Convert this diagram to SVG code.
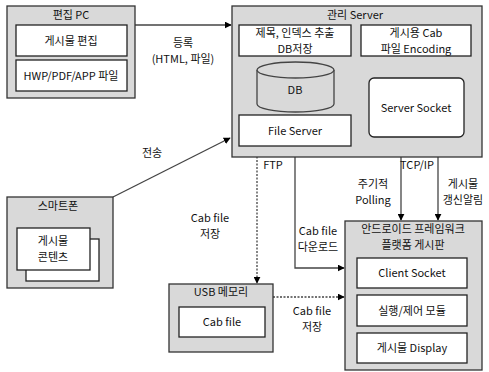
<svg xmlns="http://www.w3.org/2000/svg" width="489" height="372" viewBox="0 0 489 372">
<defs>
<marker id="ah" viewBox="0 0 10 10" refX="9" refY="5" markerWidth="7" markerHeight="7" orient="auto-start-reverse" markerUnits="userSpaceOnUse"><path d="M0,0 L10,5 L0,10 z" fill="#000"/></marker>
<style>
text{font-family:"Noto Sans CJK KR","Noto Sans",sans-serif;font-size:11px;fill:#111;text-anchor:middle}
.outer{fill:#d9d9d9;stroke:#333;stroke-width:1.3}
.inner{fill:#fff;stroke:#222;stroke-width:1.3}
.ln{fill:none;stroke:#444;stroke-width:1.3}
.dot{fill:none;stroke:#444;stroke-width:1.3;stroke-dasharray:2,1.5}
</style>
</defs>
<rect width="489" height="372" fill="#fff"/>
<g id="connectors">
<line class="ln" x1="135" y1="25" x2="231" y2="25" marker-end="url(#ah)"/>
<line class="ln" x1="113" y1="197" x2="230" y2="138" marker-end="url(#ah)"/>
<line class="dot" x1="257" y1="146" x2="257" y2="283" marker-end="url(#ah)"/>
<polyline class="ln" points="295,146 295,268 344,268" marker-end="url(#ah)"/>
<line class="ln" x1="401" y1="138" x2="401" y2="220" marker-start="url(#ah)" marker-end="url(#ah)"/>
<line class="ln" x1="438" y1="137" x2="438" y2="220" marker-end="url(#ah)"/>
<line class="dot" x1="273" y1="297" x2="344" y2="297" marker-end="url(#ah)"/>
</g>
<g id="labels">
<text x="183" y="47">등록</text>
<text x="183" y="63">(HTML, 파일)</text>
<text x="152" y="157">전송</text>
<text x="273" y="169">FTP</text>
<text x="417" y="169">TCP/IP</text>
<text x="373" y="188">주기적</text>
<text x="373" y="204">Polling</text>
<text x="463" y="188">게시물</text>
<text x="463" y="204">갱신알림</text>
<text x="210" y="222">Cab file</text>
<text x="210" y="238">저장</text>
<text x="318" y="235">Cab file</text>
<text x="318" y="251">다운로드</text>
<text x="312" y="315">Cab file</text>
<text x="312" y="331">저장</text>
</g>
<g id="pc">
<rect class="outer" x="7" y="6" width="128" height="92"/>
<text x="71" y="19">편집 PC</text>
<rect class="inner" x="16" y="25" width="111" height="31"/>
<text x="71" y="45">게시물 편집</text>
<rect class="inner" x="16" y="60" width="111" height="31"/>
<text x="71" y="80">HWP/PDF/APP 파일</text>
</g>
<g id="server">
<rect class="outer" x="232" y="6" width="250" height="151"/>
<text x="355" y="19">관리 Server</text>
<rect class="inner" x="239" y="25" width="112" height="31"/>
<text x="295" y="37">제목, 인덱스 추출</text>
<text x="295" y="53">DB저장</text>
<rect class="inner" x="361" y="25" width="110" height="31"/>
<text x="416" y="37">게시용 Cab</text>
<text x="416" y="53">파일 Encoding</text>
<path d="M257,70 L257,104 A38.5,8 0 0 0 334,104 L334,70" fill="#d9d9d9" stroke="#444" stroke-width="1.3"/>
<ellipse cx="295.5" cy="70" rx="38.5" ry="8" fill="#d9d9d9" stroke="#444" stroke-width="1.3"/>
<text x="295" y="94">DB</text>
<rect class="inner" x="239" y="115" width="112" height="31"/>
<text x="295" y="135">File Server</text>
<rect class="inner" x="369" y="78" width="95" height="59" rx="5"/>
<text x="416" y="112">Server Socket</text>
</g>
<g id="smartphone">
<rect class="outer" x="7" y="197" width="106" height="91"/>
<text x="58" y="210">스마트폰</text>
<rect class="inner" x="26" y="239" width="73" height="42"/>
<rect class="inner" x="17" y="228" width="73" height="42"/>
<text x="53" y="245">게시물</text>
<text x="53" y="261">콘텐츠</text>
</g>
<g id="usb">
<rect class="outer" x="169" y="284" width="104" height="68"/>
<text x="221" y="296">USB 메모리</text>
<rect class="inner" x="179" y="307" width="86" height="30"/>
<text x="222" y="326">Cab file</text>
</g>
<g id="android">
<rect class="outer" x="345" y="221" width="137" height="149"/>
<text x="413" y="233">안드로이드 프레임워크</text>
<text x="413" y="249">플랫폼 게시판</text>
<rect class="inner" x="357" y="258" width="110" height="30"/>
<text x="412" y="277">Client Socket</text>
<rect class="inner" x="357" y="295" width="110" height="31"/>
<text x="412" y="315">실행/제어 모듈</text>
<rect class="inner" x="357" y="333" width="110" height="30"/>
<text x="412" y="352">게시물 Display</text>
</g>
</svg>
